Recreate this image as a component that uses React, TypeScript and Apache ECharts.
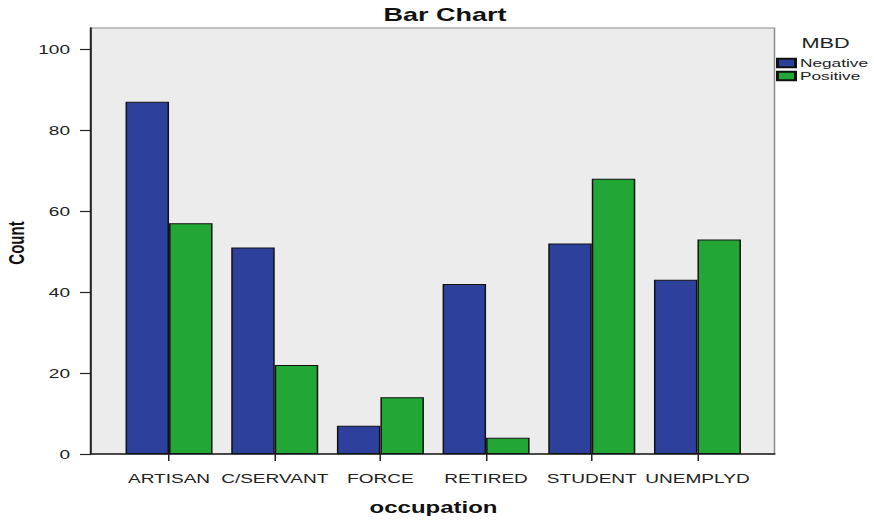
import React, { useEffect, useRef } from "react";
import * as echarts from "echarts";

const categories = ["ARTISAN", "C/SERVANT", "FORCE", "RETIRED", "STUDENT", "UNEMPLYD"];
const negativeValues = [87, 51, 7, 42, 52, 43];
const positiveValues = [57, 22, 14, 4, 68, 53];
const yTicks = [0, 20, 40, 60, 80, 100];

// The reference image is horizontally stretched; the chart is drawn in a narrower
// box and stretched by the same factor with a CSS transform.
const STRETCH = 1.5;
const WIDTH = 874 / STRETCH;

export default function App() {
  const ref = useRef<HTMLDivElement>(null);
  useEffect(() => {
    if (!ref.current) return;
    const chart = echarts.init(ref.current, null, { renderer: "svg" });
    const font = "Liberation Sans, Arial, sans-serif";
    const sx = (x: number) => x / STRETCH;
    chart.setOption({
      animation: false,
      backgroundColor: "#ffffff",
      grid: [
        { left: sx(116.2), right: WIDTH - sx(749.8), top: 28, bottom: 67 },
        {
          left: sx(91), right: WIDTH - sx(774), top: 28, bottom: 67, show: true,
          backgroundColor: "#ececec", borderColor: "#8a8a8a", borderWidth: 1, z: 0,
        },
      ],
      xAxis: [
        {
          type: "category", gridIndex: 0, data: categories,
          axisLine: { show: false },
          axisTick: { show: true, alignWithLabel: true, length: 7, lineStyle: { color: "#222", width: 1 } },
          axisLabel: { interval: 0, hideOverlap: false, color: "#222", fontSize: 12.7, fontFamily: font, margin: 18 },
        },
        {
          type: "category", gridIndex: 1, data: [""],
          axisLine: { show: true, lineStyle: { color: "#222", width: 1.5 } },
          axisTick: { show: false }, axisLabel: { show: false },
        },
      ],
      yAxis: [
        {
          type: "value", gridIndex: 0, min: 0, max: 105.2, show: false,
          splitLine: { show: false },
        },
        {
          type: "value", gridIndex: 1, min: 0, max: 105.2,
          axisLine: { show: true, lineStyle: { color: "#222", width: 1.3 } },
          axisTick: { show: true, length: sx(11), customValues: yTicks, lineStyle: { color: "#222", width: 1.2 } },
          axisLabel: { customValues: yTicks, color: "#222", fontSize: 12.7, fontFamily: font, margin: sx(21) },
          splitLine: { show: false },
        },
      ],
      legend: {
        orient: "vertical", left: sx(776), top: 57, padding: 0,
        itemWidth: sx(18), itemHeight: 8.5, itemGap: 1, icon: "rect",
        textStyle: { fontSize: 11.5, lineHeight: 12, fontFamily: font, color: "#222", padding: [0, 0, 0, -2] },
        data: ["Negative", "Positive"],
      },
      series: [
        {
          name: "Negative", type: "bar", xAxisIndex: 0, yAxisIndex: 0, data: negativeValues,
          barWidth: sx(43.5), barGap: "0%",
          itemStyle: { color: "#2c409c", borderColor: "#111", borderWidth: 1 },
          z: 3,
        },
        {
          name: "Positive", type: "bar", xAxisIndex: 0, yAxisIndex: 0, data: positiveValues,
          barWidth: sx(43.5), barGap: "0%",
          itemStyle: { color: "#22a737", borderColor: "#111", borderWidth: 1 },
          z: 3,
        },
      ],
      graphic: [
        {
          type: "text", x: sx(445), y: 14.5,
          style: { text: "Bar Chart", font: `bold 18px ${font}`, fill: "#111", align: "center", verticalAlign: "middle" },
        },
        {
          type: "text", x: sx(433.5), y: 508,
          style: { text: "occupation", font: `bold 16px ${font}`, fill: "#111", align: "center", verticalAlign: "middle" },
        },
        {
          type: "text", x: sx(16), y: 243, rotation: Math.PI / 2,
          style: { text: "Count", font: `bold 15px ${font}`, fill: "#111", align: "center", verticalAlign: "middle" },
        },
        {
          type: "text", x: sx(801.5), y: 42.5,
          style: { text: "MBD", font: `14.5px ${font}`, fill: "#222", verticalAlign: "middle" },
        },
      ],
    });
    return () => chart.dispose();
  }, []);
  return (
    <div
      ref={ref}
      style={{
        position: "fixed", left: 0, top: 0, width: WIDTH, height: 521,
        transform: `scaleX(${STRETCH})`, transformOrigin: "0 0",
      }}
    />
  );
}
